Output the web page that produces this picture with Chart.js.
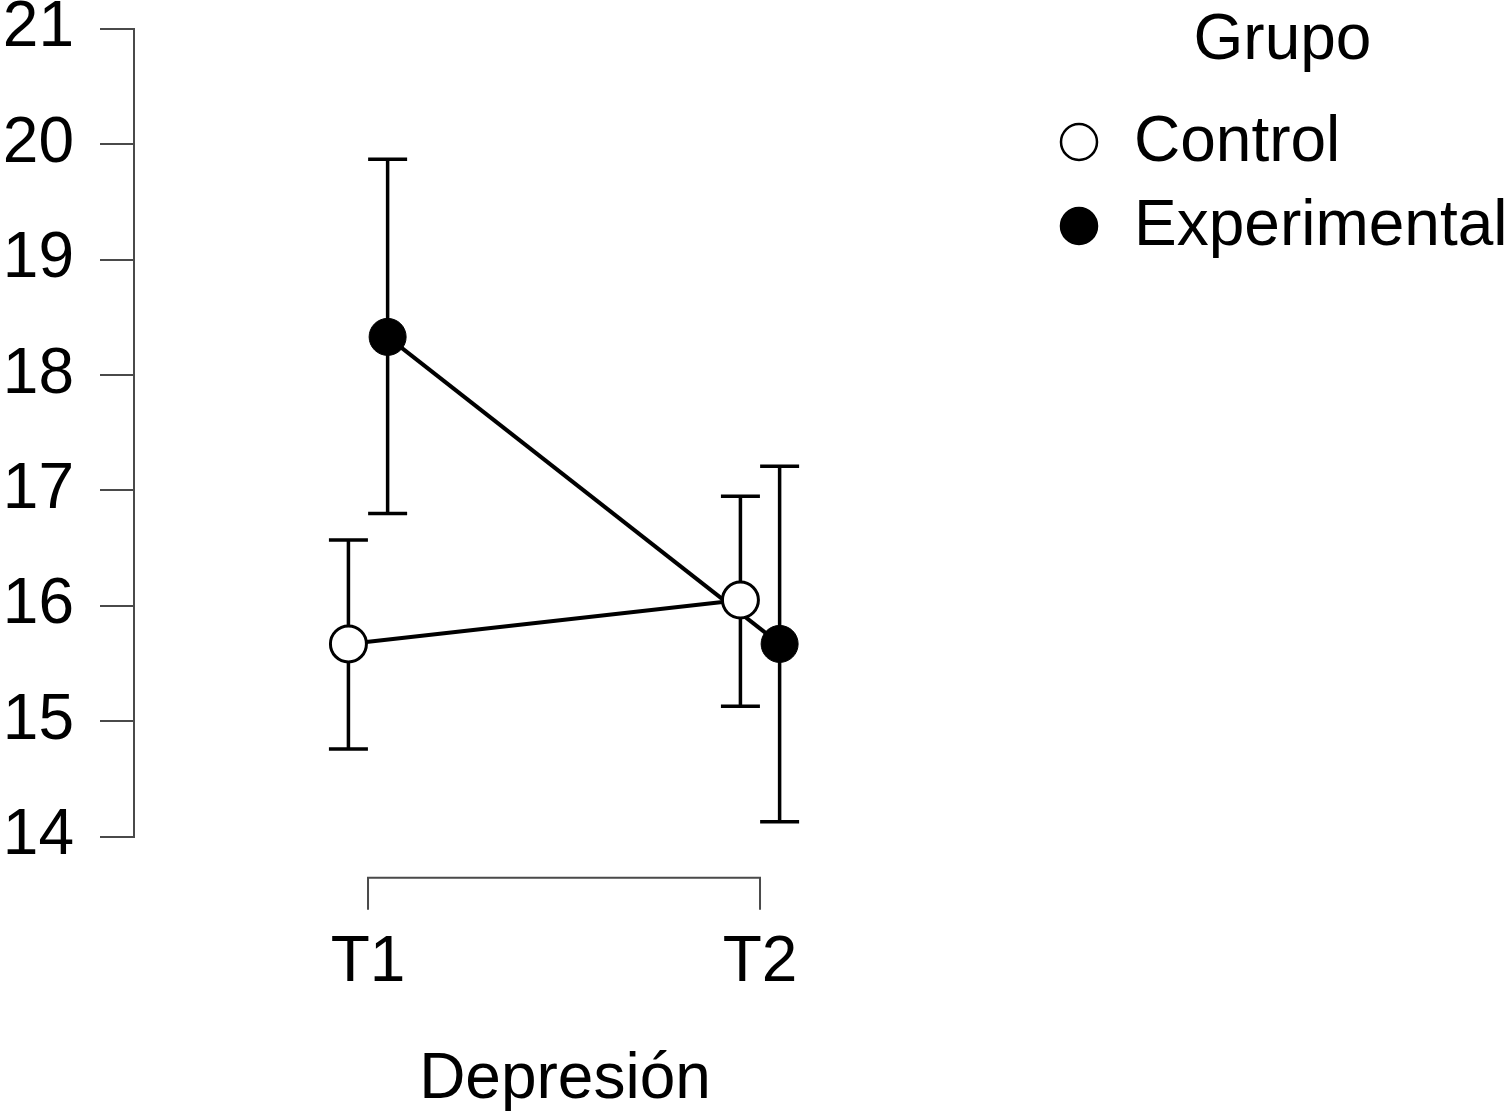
<!DOCTYPE html>
<html>
<head>
<meta charset="utf-8">
<script src="https://cdn.jsdelivr.net/npm/chart.js@4.4.1/dist/chart.umd.min.js"></script>
<style>
  html, body { margin: 0; padding: 0; background: #ffffff; }
  #wrap { width: 1508px; height: 1119px; position: relative; }
</style>
</head>
<body>
<div id="wrap"><canvas id="chart"></canvas></div>
<script>
// ---- data ----
const categories = ['T1', 'T2'];
const groupNames = ['Control', 'Experimental'];
const controlMean  = [15.67, 16.05];
const controlLower = [14.76, 15.13];
const controlUpper = [16.57, 16.95];
const expMean  = [18.33, 15.67];
const expLower = [16.80, 14.13];
const expUpper = [19.87, 17.21];
const yTickValues = [14, 15, 16, 17, 18, 19, 20, 21];
const xAxisTitle = 'Depresión';
const legendTitle = 'Grupo';

// ---- style ----
const FONT = "'Liberation Sans', Arial, Helvetica, sans-serif";
const FS = 64;
const AXIS_COLOR = '#4a4a4a';
const DODGE = 0.05;

Chart.defaults.font.family = FONT;
Chart.defaults.color = '#000000';

function pts(means, offset) {
  return means.map((v, i) => ({ x: i + 1 + offset, y: v }));
}

const errorBars = {
  id: 'errorBars',
  beforeDatasetsDraw(chart) {
    const ctx = chart.ctx;
    const xs = chart.scales.x, ys = chart.scales.y;
    ctx.save();
    ctx.strokeStyle = '#000000';
    ctx.lineWidth = 3.5;
    ctx.lineCap = 'butt';
    chart.data.datasets.forEach(ds => {
      ds.data.forEach((p, i) => {
        const x = xs.getPixelForValue(p.x);
        const y1 = ys.getPixelForValue(ds.errLow[i]);
        const y2 = ys.getPixelForValue(ds.errHigh[i]);
        const half = 19.5;
        ctx.beginPath();
        ctx.moveTo(x, y1); ctx.lineTo(x, y2);
        ctx.moveTo(x - half, y1); ctx.lineTo(x + half, y1);
        ctx.moveTo(x - half, y2); ctx.lineTo(x + half, y2);
        ctx.stroke();
      });
    });
    ctx.restore();
  }
};

const bracketAxis = {
  id: 'bracketAxis',
  afterDraw(chart) {
    const ctx = chart.ctx;
    const xs = chart.scales.x;
    const xa = xs.getPixelForValue(1);
    const xb = xs.getPixelForValue(categories.length);
    const y = chart.chartArea.bottom + 41;
    ctx.save();
    ctx.strokeStyle = AXIS_COLOR;
    ctx.lineWidth = 2;
    ctx.beginPath();
    ctx.moveTo(xa, y + 32); ctx.lineTo(xa, y); ctx.lineTo(xb, y); ctx.lineTo(xb, y + 32);
    ctx.stroke();
    ctx.restore();
  }
};

// legend drawn from the datasets' own labels and point styles
const groupLegend = {
  id: 'groupLegend',
  afterDraw(chart) {
    const ctx = chart.ctx;
    ctx.save();
    ctx.fillStyle = '#000000';
    ctx.font = FS + 'px ' + FONT;
    ctx.textBaseline = 'middle';
    ctx.textAlign = 'center';
    ctx.fillText(legendTitle, 1282.5, 41);
    ctx.textAlign = 'left';
    chart.data.datasets.forEach((ds, i) => {
      const cy = 142 + i * 84;
      ctx.beginPath();
      ctx.arc(1079, cy, 18, 0, Math.PI * 2);
      ctx.fillStyle = ds.pointBackgroundColor;
      ctx.fill();
      ctx.lineWidth = 2.5;
      ctx.strokeStyle = ds.pointBorderColor;
      ctx.stroke();
      ctx.fillStyle = '#000000';
      ctx.fillText(ds.label, 1134, cy + 1);
    });
    ctx.restore();
  }
};

new Chart(document.getElementById('chart'), {
  type: 'line',
  data: {
    datasets: [
      {
        label: groupNames[0],
        data: pts(controlMean, -DODGE),
        errLow: controlLower,
        errHigh: controlUpper,
        borderColor: '#000000',
        borderWidth: 4,
        pointRadius: 18,
        pointHoverRadius: 18,
        pointBackgroundColor: '#ffffff',
        pointBorderColor: '#000000',
        pointBorderWidth: 3,
        pointStyle: 'circle',
        order: 0
      },
      {
        label: groupNames[1],
        data: pts(expMean, DODGE),
        errLow: expLower,
        errHigh: expUpper,
        borderColor: '#000000',
        borderWidth: 4,
        pointRadius: 18.5,
        pointHoverRadius: 18.5,
        pointBackgroundColor: '#000000',
        pointBorderColor: '#000000',
        pointBorderWidth: 1,
        pointStyle: 'circle',
        order: 1
      }
    ]
  },
  options: {
    responsive: true,
    maintainAspectRatio: false,
    animation: false,
    events: [],
    layout: { padding: { top: 0, left: 0, bottom: 0, right: 512 } },
    scales: {
      x: {
        type: 'linear',
        position: 'bottom',
        min: 0.403,
        max: 2.602,
        grid: { display: false, drawTicks: false },
        border: { display: false },
        afterBuildTicks(scale) {
          scale.ticks = categories.map((_, i) => ({ value: i + 1 }));
        },
        ticks: {
          callback: (v, i) => categories[i],
          font: { size: FS, lineHeight: 1.2 },
          color: '#000000',
          padding: 88,
          maxRotation: 0,
          autoSkip: false
        },
        title: {
          display: true,
          text: xAxisTitle,
          font: { size: FS, lineHeight: 1.2 },
          color: '#000000',
          padding: { top: 0, bottom: 0 }
        },
        afterFit(scale) {
          scale.height = 282.3;
          scale.paddingLeft = 0;
          scale.paddingRight = 0;
        }
      },
      y: {
        type: 'linear',
        position: 'left',
        min: 14,
        max: 21,
        afterBuildTicks(scale) {
          scale.ticks = yTickValues.map(v => ({ value: v }));
        },
        ticks: {
          font: { size: FS, lineHeight: 1.2 },
          color: '#000000',
          padding: 26
        },
        grid: {
          display: true,
          drawOnChartArea: false,
          drawTicks: true,
          tickLength: 34,
          color: AXIS_COLOR,
          lineWidth: 2
        },
        border: { display: true, color: AXIS_COLOR, width: 2 },
        afterFit(scale) {
          scale.width = 134;
          scale.paddingTop = 28.7;
          scale.paddingBottom = 0;
        }
      }
    },
    plugins: {
      tooltip: { enabled: false },
      legend: { display: false }
    }
  },
  plugins: [errorBars, bracketAxis, groupLegend]
});
</script>
</body>
</html>
